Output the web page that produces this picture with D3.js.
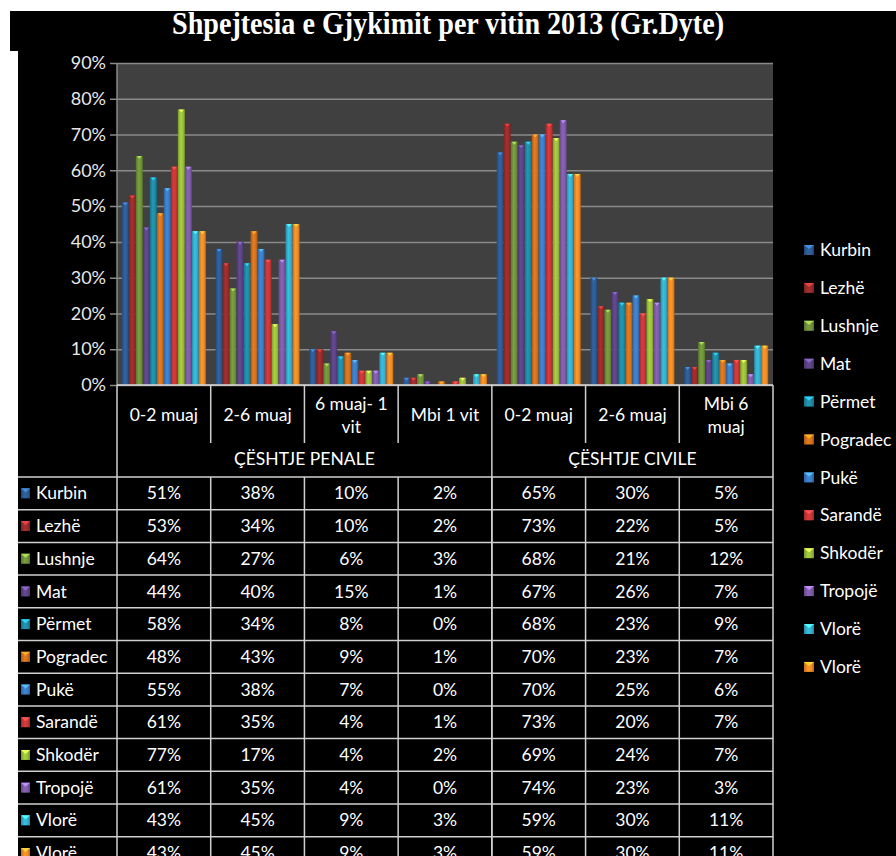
<!DOCTYPE html>
<html>
<head>
<meta charset="utf-8">
<script src="https://cdn.jsdelivr.net/npm/d3@7"></script>
<style>
html,body{margin:0;padding:0;background:#fff;}
svg{display:block;}
text{font-family:Lato,"Open Sans",sans-serif;}
</style>
</head>
<body>
<svg id="chart" width="896" height="856"></svg>
<script>
const title = "Shpejtesia e Gjykimit per vitin 2013 (Gr.Dyte)";
const categories = ["0-2 muaj", "2-6 muaj", "6 muaj- 1 vit", "Mbi 1 vit", "0-2 muaj ", "2-6 muaj ", "Mbi 6 muaj"];
const categoryLines = [["0-2 muaj"], ["2-6 muaj"], ["6 muaj- 1", "vit"], ["Mbi 1 vit"], ["0-2 muaj"], ["2-6 muaj"], ["Mbi 6", "muaj"]];
const groups = [{name: "ÇËSHTJE PENALE", from: 0, to: 3}, {name: "ÇËSHTJE CIVILE", from: 4, to: 6}];
const seriesNames = ["Kurbin", "Lezhë", "Lushnje", "Mat", "Përmet", "Pogradec", "Pukë", "Sarandë", "Shkodër", "Tropojë", "Vlorë", "Vlorë"];
const seriesColors = ["#2D5B94", "#9A2B2B", "#70923A", "#5C4386", "#1E8BA6", "#D4711C", "#3A7CC6", "#C83636", "#9BBF3A", "#7E5BA8", "#34AFCF", "#F08B25"];
const kurbin   = [51, 38, 10, 2, 65, 30, 5];
const lezhe    = [53, 34, 10, 2, 73, 22, 5];
const lushnje  = [64, 27, 6, 3, 68, 21, 12];
const mat      = [44, 40, 15, 1, 67, 26, 7];
const permet   = [58, 34, 8, 0, 68, 23, 9];
const pogradec = [48, 43, 9, 1, 70, 23, 7];
const puke     = [55, 38, 7, 0, 70, 25, 6];
const sarande  = [61, 35, 4, 1, 73, 20, 7];
const shkoder  = [77, 17, 4, 2, 69, 24, 7];
const tropoje  = [61, 35, 4, 0, 74, 23, 3];
const vlore1   = [43, 45, 9, 3, 59, 30, 11];
const vlore2   = [43, 45, 9, 3, 59, 30, 11];
const values = [kurbin, lezhe, lushnje, mat, permet, pogradec, puke, sarande, shkoder, tropoje, vlore1, vlore2];
const yTicks = [0, 10, 20, 30, 40, 50, 60, 70, 80, 90];

const svg = d3.select("#chart");
// backgrounds
svg.append("rect").attr("x", 0).attr("y", 0).attr("width", 896).attr("height", 856).attr("fill", "#fff");
svg.append("rect").attr("x", 10).attr("y", 11).attr("width", 886).attr("height", 40).attr("fill", "#000");
svg.append("rect").attr("x", 18).attr("y", 11).attr("width", 878).attr("height", 845).attr("fill", "#000");

// title
const tt = svg.append("text").attr("x", 448).attr("y", 34).attr("text-anchor", "middle")
  .attr("fill", "#fff").style("font-family", "'Liberation Serif', 'DejaVu Serif', serif")
  .style("font-weight", "bold").style("font-size", "31px").text(title);
tt.attr("textLength", 552).attr("lengthAdjust", "spacingAndGlyphs");

const plotL = 117, plotR = 773, plotT = 63, plotB = 385;
const x0 = d3.scaleBand().domain(d3.range(categories.length)).range([plotL, plotR]).padding(0);
const x1 = d3.scaleBand().domain(d3.range(seriesNames.length)).range([0, x0.bandwidth()]).paddingInner(0).paddingOuter(0.69);
const y = d3.scaleLinear().domain([0, 90]).range([plotB, plotT]);

// gradients
const defs = svg.append("defs");
seriesColors.forEach((c, i) => {
  const g = defs.append("linearGradient").attr("id", "g" + i).attr("x1", "0").attr("x2", "1").attr("y1", "0").attr("y2", "0");
  const base = d3.color(c);
  g.append("stop").attr("offset", "0%").attr("stop-color", base.darker(0.6));
  g.append("stop").attr("offset", "40%").attr("stop-color", base.brighter(0.25));
  g.append("stop").attr("offset", "75%").attr("stop-color", base);
  g.append("stop").attr("offset", "100%").attr("stop-color", base.darker(0.8));
});

// plot background
svg.append("rect").attr("x", plotL).attr("y", plotT).attr("width", plotR - plotL).attr("height", plotB - plotT).attr("fill", "#404040");

// grid
const yAxis = d3.axisLeft(y).tickValues(yTicks).tickFormat(d => d + "%").tickSize(-(plotR - plotL + 0)).tickPadding(11);
const ga = svg.append("g").attr("transform", `translate(${plotL},0)`).call(yAxis);
ga.select(".domain").attr("stroke", "#8a8a8a").attr("stroke-width", 1.5).attr("d", `M0,${plotT}V${plotB}`);
ga.selectAll(".tick line").attr("stroke", "#8a8a8a").attr("stroke-width", 1.5).attr("x1", -7);
ga.selectAll(".tick text").attr("fill", "#e8e8e8").style("font-size", "18px").style("font-family", "Lato, sans-serif");

// bars
const gGroups = svg.append("g").selectAll("g").data(categories.map((c, i) => i)).join("g")
  .attr("transform", d => `translate(${x0(d)},0)`);
gGroups.each(function(ci) {
  const g = d3.select(this);
  const data = seriesNames.map((s, si) => ({si, v: values[si][ci]}));
  g.selectAll("rect.bar").data(data).join("rect").attr("class", "bar")
    .attr("x", d => x1(d.si)).attr("width", x1.bandwidth())
    .attr("y", d => y(d.v)).attr("height", d => plotB - y(d.v))
    .attr("fill", d => `url(#g${d.si})`);
  g.selectAll("path.cap").data(data.filter(d => d.v > 0)).join("path").attr("class", "cap")
    .attr("d", d => {
      const xl = x1(d.si) + 1, xr = x1(d.si) + x1.bandwidth() - 1, yt = y(d.v);
      const xm = (xl + xr) / 2;
      return `M${xl},${yt}L${xr},${yt}L${xm},${yt + 3}Z`;
    })
    .attr("fill", d => d3.color(seriesColors[d.si]).brighter(1.2));
});

// axis line at bottom
svg.append("line").attr("x1", plotL).attr("x2", plotR).attr("y1", plotB).attr("y2", plotB).attr("stroke", "#d8d8d8").attr("stroke-width", 1.5);

// table
const tableL = 18, hdrB = 443, grpB = 477, rowH = 32.7;
const lineCol = "#d0d0d0";
const tb = svg.append("g");
// header category labels
categoryLines.forEach((lines, ci) => {
  const cx = x0(ci) + x0.bandwidth() / 2;
  const cy = 415;
  lines.forEach((ln, li) => {
    tb.append("text").attr("x", cx).attr("y", cy + (li - (lines.length - 1) / 2) * 23).attr("dy", "0.35em")
      .attr("text-anchor", "middle").attr("fill", "#fff").style("font-size", "17.5px").text(ln);
  });
});
// header inner dividers
categories.forEach((c, ci) => {
  if (ci === 0) return;
  const isGroupEdge = groups.some(g => g.from === ci);
  tb.append("line").attr("x1", x0(ci)).attr("x2", x0(ci)).attr("y1", plotB).attr("y2", isGroupEdge ? 856 : hdrB)
    .attr("stroke", lineCol).attr("stroke-width", 1.5);
});
// group labels
groups.forEach(g => {
  const xa = x0(g.from), xb = x0(g.to) + x0.bandwidth();
  tb.append("text").attr("x", (xa + xb) / 2).attr("y", 459).attr("dy", "0.35em").attr("text-anchor", "middle")
    .attr("fill", "#fff").style("font-size", "17.5px").text(g.name);
});
// outer verticals
[plotL, plotR].forEach(xv => {
  tb.append("line").attr("x1", xv).attr("x2", xv).attr("y1", plotB).attr("y2", 856).attr("stroke", lineCol).attr("stroke-width", 1.5);
});
// data row verticals
categories.forEach((c, ci) => {
  if (ci === 0) return;
  tb.append("line").attr("x1", x0(ci)).attr("x2", x0(ci)).attr("y1", grpB).attr("y2", 856).attr("stroke", lineCol).attr("stroke-width", 1.5);
});
// rows
const rowY = d3.scaleBand().domain(d3.range(seriesNames.length)).range([grpB, grpB + rowH * seriesNames.length]);
tb.append("line").attr("x1", tableL).attr("x2", plotR).attr("y1", grpB).attr("y2", grpB).attr("stroke", lineCol).attr("stroke-width", 1.5);
seriesNames.forEach((s, si) => {
  const yt = rowY(si), yb = yt + rowY.bandwidth(), cy = yt + rowY.bandwidth() / 2;
  tb.append("line").attr("x1", tableL).attr("x2", plotR).attr("y1", yb).attr("y2", yb).attr("stroke", lineCol).attr("stroke-width", 1.5);
  tb.append("rect").attr("x", 21).attr("y", cy - 5).attr("width", 9).attr("height", 10).attr("fill", `url(#g${si})`);
  tb.append("path").attr("d", `M21,${cy - 5}L30,${cy - 5}L25.5,${cy - 1}Z`).attr("fill", d3.color(seriesColors[si]).brighter(1.2));
  tb.append("text").attr("x", 36).attr("y", cy).attr("dy", "0.35em").attr("fill", "#fff").style("font-size", "17.5px").text(s);
  values[si].forEach((v, ci) => {
    tb.append("text").attr("x", x0(ci) + x0.bandwidth() / 2).attr("y", cy).attr("dy", "0.35em").attr("text-anchor", "middle")
      .attr("fill", "#fff").style("font-size", "17.5px").text(v + "%");
  });
});

// legend
const leg = svg.append("g");
seriesNames.forEach((s, si) => {
  const cy = 250 + si * 37.9;
  leg.append("rect").attr("x", 804).attr("y", cy - 5).attr("width", 10).attr("height", 10).attr("fill", `url(#g${si})`);
  leg.append("path").attr("d", `M804,${cy - 5}L814,${cy - 5}L809,${cy - 1}Z`).attr("fill", d3.color(seriesColors[si]).brighter(1.2));
  leg.append("text").attr("x", 820).attr("y", cy).attr("dy", "0.35em").attr("fill", "#fff").style("font-size", "17.5px").text(s);
});
</script>
</body>
</html>
